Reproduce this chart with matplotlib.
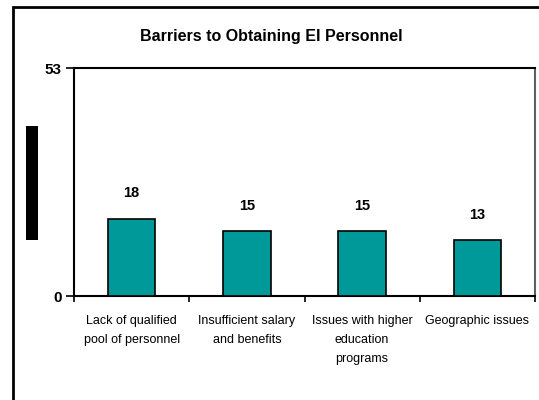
import matplotlib
matplotlib.use("Agg")
from matplotlib import pyplot as plt
from matplotlib.patches import Rectangle
import numpy as np

plt.rcParams['font.family'] = ['Liberation Sans', 'DejaVu Sans']

categories = ["Lack of qualified\npool of personnel", "Insufficient salary\nand benefits",
              "Issues with higher\neducation\nprograms", "Geographic issues"]
values = [18, 15, 15, 13]
ymax = 53

fig = plt.figure(figsize=(5.39, 4.0), dpi=100)
ax = fig.add_axes([74/539, 1-296/400, (535-74)/539, (296-68)/400])

x = np.arange(len(values))
ax.bar(x, values, width=0.41, color="#009999", edgecolor="black", linewidth=1.2, zorder=3)
for xi, v in zip(x, values):
    ax.text(xi, v + 4.3, str(v), ha="center", va="bottom", fontsize=10.5, fontweight="bold")

ax.set_xlim(-0.5, len(values) - 0.5)
ax.set_ylim(0, ymax)
ax.set_yticks([0, ymax])
ax.set_yticklabels(["0", str(ymax)], fontsize=11, fontweight="bold")
ax.set_xticks(np.arange(len(values) + 1) - 0.5)
ax.set_xticklabels([])
ax.set_xticks(x, minor=True)
ax.set_xticklabels(categories, minor=True, fontsize=9, linespacing=1.75)
ax.tick_params(axis="x", which="minor", length=0, pad=14)
ax.tick_params(axis="x", which="major", length=4, width=1.2, direction="out")
ax.tick_params(axis="y", length=6, width=1.2, direction="out", pad=3)

ax.spines["left"].set_linewidth(1.5)
ax.spines["top"].set_linewidth(1.5)
ax.spines["bottom"].set_linewidth(1.5)
ax.spines["right"].set_linestyle((0, (1, 1)))
ax.spines["right"].set_color("#606060")
ax.spines["right"].set_linewidth(1.5)

fig.text(271/539, 1-37/400, "Barriers to Obtaining EI Personnel", ha="center", va="center",
         fontsize=11.5, fontweight="bold")

# outer chart frame
fig.add_artist(Rectangle((13/539, -0.05), 1.1, 1-7/400+0.05, transform=fig.transFigure,
                         fill=False, edgecolor="black", linewidth=2))
# redacted axis label
fig.add_artist(Rectangle((26/539, 1-240/400), 12/539, 114/400, transform=fig.transFigure,
                         facecolor="black", edgecolor="none"))

fig.savefig("out.png", dpi=100)
